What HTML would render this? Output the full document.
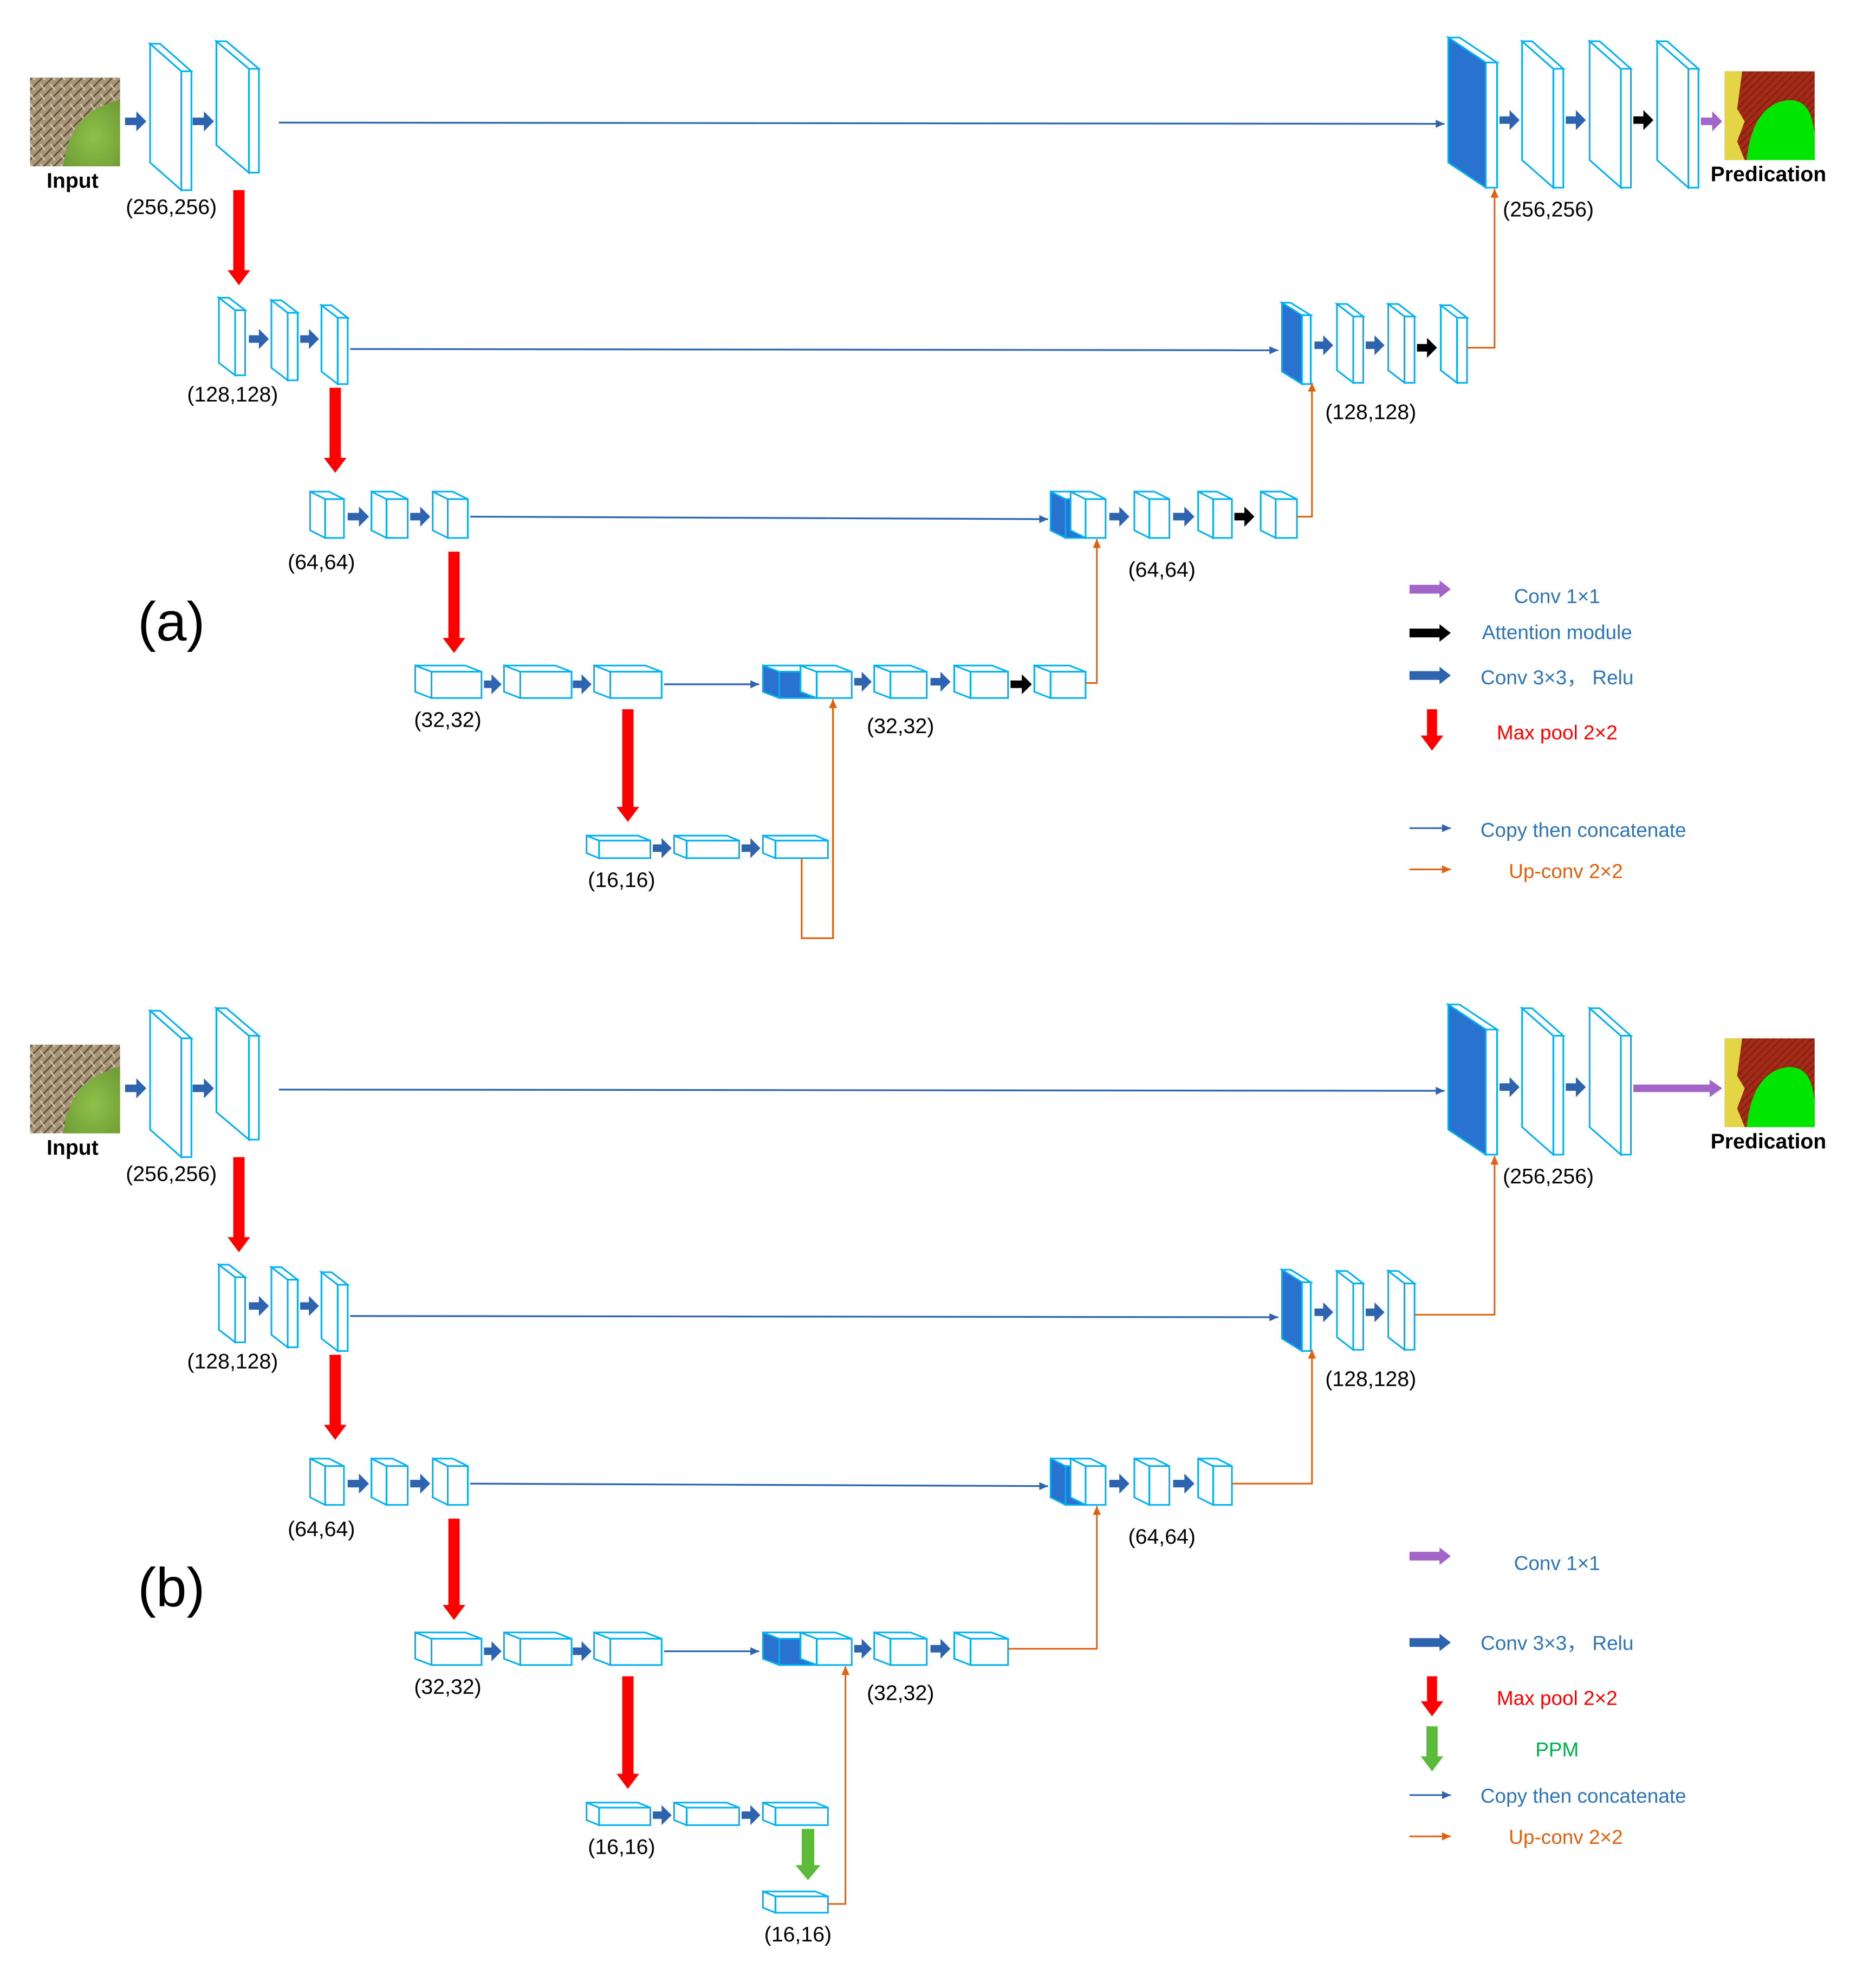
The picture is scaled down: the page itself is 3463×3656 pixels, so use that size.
<!DOCTYPE html>
<html><head><meta charset="utf-8">
<style>html,body{margin:0;padding:0;background:#fff}svg{display:block}</style>
</head><body>
<svg id="s" width="3463" height="3656" viewBox="0 0 1500 1583.6" preserveAspectRatio="none" xmlns="http://www.w3.org/2000/svg" font-family="Liberation Sans, sans-serif">
<defs>
<radialGradient id="leaf" cx="0.5" cy="0.5" r="0.6"><stop offset="0" stop-color="#8fc04a"/><stop offset="1" stop-color="#6e9c35"/></radialGradient>
<pattern id="straw" width="8" height="8" patternUnits="userSpaceOnUse"><rect width="8" height="8" fill="#a99677"/><path d="M0 8L8 0M-2 2L2 -2M6 10L10 6" stroke="#5d5142" stroke-width="1.2"/><path d="M0 3L4 8" stroke="#d9cdb3" stroke-width="1"/></pattern>
<pattern id="red" width="6" height="6" patternUnits="userSpaceOnUse"><rect width="6" height="6" fill="#a42a18"/><path d="M0 6L6 0" stroke="#7c1e10" stroke-width="1"/></pattern>
<clipPath id="c1"><rect x="24" y="62" width="72" height="71"/></clipPath>
<clipPath id="c2"><rect x="1379" y="57" width="72" height="71"/></clipPath>
</defs>
<g id="g"></g>
<g font-size="17" fill="#000" text-anchor="middle">
<text x="58" y="150" font-weight="bold">Input</text>
<text x="1414" y="145" font-weight="bold">Predication</text>
<text x="137" y="171">(256,256)</text>
<text x="1238" y="173">(256,256)</text>
<text x="186" y="321">(128,128)</text>
<text x="1096" y="335">(128,128)</text>
<text x="257" y="455">(64,64)</text>
<text x="929" y="461">(64,64)</text>
<text x="358" y="581">(32,32)</text>
<text x="720" y="586">(32,32)</text>
<text x="497" y="709">(16,16)</text>
<text x="137" y="512" font-size="44">(a)</text>
<text x="58" y="923" font-weight="bold">Input</text>
<text x="1414" y="918" font-weight="bold">Predication</text>
<text x="137" y="944">(256,256)</text>
<text x="1238" y="946">(256,256)</text>
<text x="186" y="1094">(128,128)</text>
<text x="1096" y="1108">(128,128)</text>
<text x="257" y="1228">(64,64)</text>
<text x="929" y="1234">(64,64)</text>
<text x="358" y="1354">(32,32)</text>
<text x="720" y="1359">(32,32)</text>
<text x="497" y="1482">(16,16)</text>
<text x="638" y="1552">(16,16)</text>
<text x="137" y="1284" font-size="44">(b)</text>
</g>
<g font-size="16" text-anchor="middle">
<text x="1245" y="482" fill="#2e75b6">Conv 1×1</text>
<text x="1245" y="511" fill="#2e75b6">Attention module</text>
<text x="1245" y="547" fill="#2e75b6">Conv 3×3， Relu</text>
<text x="1245" y="591" fill="#ff0000">Max pool 2×2</text>
<text x="1266" y="669" fill="#2e75b6">Copy then concatenate</text>
<text x="1252" y="702" fill="#e0600e">Up-conv 2×2</text>
<text x="1245" y="1255" fill="#2e75b6">Conv 1×1</text>
<text x="1245" y="1319" fill="#2e75b6">Conv 3×3， Relu</text>
<text x="1245" y="1363" fill="#ff0000">Max pool 2×2</text>
<text x="1245" y="1404" fill="#00b050">PPM</text>
<text x="1266" y="1441" fill="#2e75b6">Copy then concatenate</text>
<text x="1252" y="1474" fill="#e0600e">Up-conv 2×2</text>
</g>
</svg>
<script>
var o='';
var CY='#00b0f0',BL='#2e63b0',OR='#e0600e',FILL='#2a72d0';
function cub(x1,y1,x2,y2,dx,dy,f,frontFill){
 var fx1=x1+dx,fy1=y1+dy;
 var fill=f?FILL:'#fff';
 var ff=frontFill||(f&&dx<x2-x1-dx?FILL:'#fff');
 o+='<polygon points="'+[x1,y1,fx1,fy1,fx1,y2,x1,y2-dy].join(',')+'" fill="'+fill+'" stroke="'+CY+'" stroke-width="1.3"/>';
 o+='<polygon points="'+[x1,y1,x2-dx,y1,x2,fy1,fx1,fy1].join(',')+'" fill="#fff" stroke="'+CY+'" stroke-width="1.3"/>';
 o+='<rect x="'+fx1+'" y="'+fy1+'" width="'+(x2-fx1)+'" height="'+(y2-fy1)+'" fill="'+ff+'" stroke="'+CY+'" stroke-width="1.3"/>';
}
function ba(x1,x2,y,c,sh,hh,hl){sh=sh||6;hh=hh||16;hl=hl||8;var xs=x2-hl;
 o+='<polygon points="'+[x1,y-sh/2,xs,y-sh/2,xs,y-hh/2,x2,y,xs,y+hh/2,xs,y+sh/2,x1,y+sh/2].join(',')+'" fill="'+c+'"/>';}
function da(x,y1,y2,c,sw,hw,hl){sw=sw||9;hw=hw||18;hl=hl||12;var ys=y2-hl;
 o+='<polygon points="'+[x-sw/2,y1,x+sw/2,y1,x+sw/2,ys,x+hw/2,ys,x,y2,x-hw/2,ys,x-sw/2,ys].join(',')+'" fill="'+c+'"/>';}
function ln(pts,c,w,arrow){o+='<polyline points="'+pts.join(',')+'" fill="none" stroke="'+c+'" stroke-width="'+(w||1.3)+'"/>';
 if(arrow){var n=pts.length,x2=pts[n-2],y2=pts[n-1],x1=pts[n-4],y1=pts[n-3];var a=Math.atan2(y2-y1,x2-x1),L=7,W=3.2;
 var bx=x2-L*Math.cos(a),by=y2-L*Math.sin(a);
 o+='<polygon points="'+[x2,y2,bx-W*Math.sin(a),by+W*Math.cos(a),bx+W*Math.sin(a),by-W*Math.cos(a)].join(',')+'" fill="'+c+'"/>';}}
function images(dy){
 o+='<g transform="translate(0,'+dy+')"><g clip-path="url(#c1)"><rect x="24" y="62" width="72" height="71" fill="url(#straw)"/><path d="M50 140 C52 110 62 88 96 80 L100 140Z" fill="url(#leaf)"/></g></g>';
 o+='<g transform="translate(0,'+dy+')"><g clip-path="url(#c2)"><rect x="1379" y="57" width="72" height="71" fill="url(#red)"/><path d="M1379 57h14l-4 30 6 10-6 16 6 15h-16z" fill="#e3d545"/><path d="M1396 135 C1398 100 1410 82 1430 80 C1448 80 1452 95 1452 135Z" fill="#00e600"/></g></g>';
}
function panel(Y,b){
 images(Y);
 ba(100,117,97+Y,BL);ba(154,171,97+Y,BL);
 cub(120,35+Y,153,152+Y,25,22);cub(173,33+Y,207,138+Y,26,22);
 ln([223,98+Y,1155,99+Y],BL,1.4,true);
 da(191,152+Y,228+Y,'#ff0000');
 cub(1158,30+Y,1197,150+Y,30,20,true,'#fff');
 ba(1199,1215,96+Y,BL);cub(1217,33+Y,1250,150+Y,25,22);
 ba(1252,1268,96+Y,BL);cub(1271,33+Y,1304,150+Y,25,22);
 if(!b){ba(1306,1322,96+Y,'#000');cub(1325,33+Y,1358,150+Y,25,22);ba(1360,1377,97+Y,'#a366c8');}
 else{ba(1306,1377,97+Y,'#a366c8',6,14,10);}
 cub(175,238+Y,196,300+Y,13,10);cub(217,240+Y,238,304+Y,13,10);cub(257,244+Y,278,307+Y,13,10);
 ba(199,215,271+Y,BL);ba(240,255,271+Y,BL);
 ln([280,279+Y,1022,280+Y],BL,1.4,true);
 da(268,310+Y,378+Y,'#ff0000');
 cub(1025,242+Y,1048,307+Y,16,10,true,'#fff');
 ba(1051,1066,276+Y,BL);cub(1069,243+Y,1090,306+Y,13,10);
 ba(1092,1107,276+Y,BL);cub(1110,243+Y,1131,306+Y,13,10);
 if(!b){ba(1133,1149,278+Y,'#000');cub(1152,244+Y,1173,306+Y,13,10);ln([1173,278+Y,1195,278+Y,1195,151+Y],OR,1.3,true);}
 else{ln([1131,278+Y,1195,278+Y,1195,151+Y],OR,1.3,true);}
 cub(248,393+Y,275,430+Y,12,6);cub(297,393+Y,326,430+Y,12,6);cub(346,393+Y,374,430+Y,12,6);
 ba(278,295,413+Y,BL);ba(328,344,413+Y,BL);
 ln([376,413+Y,838,415+Y],BL,1.4,true);
 da(363,441+Y,522+Y,'#ff0000');
 cub(840,393+Y,868,430+Y,12,6,true,FILL);cub(856,393+Y,884,430+Y,12,6);
 ba(887,903,413+Y,BL);cub(907,393+Y,935,430+Y,12,6);
 ba(938,955,413+Y,BL);cub(958,393+Y,985,430+Y,12,6);
 if(!b){ba(987,1003,413+Y,'#000');cub(1008,393+Y,1037,430+Y,12,6);ln([1037,413+Y,1049,413+Y,1049,306+Y],OR,1.3,true);}
 else{ln([985,413+Y,1049,413+Y,1049,306+Y],OR,1.3,true);}
 cub(332,532+Y,385,558+Y,13,5);cub(403,532+Y,457,558+Y,13,5);cub(475,532+Y,529,558+Y,13,5);
 ba(387,401,547+Y,BL);ba(458,473,547+Y,BL);
 ln([531,547+Y,607,547+Y],BL,1.4,true);
 da(502,567+Y,657+Y,'#ff0000');
 cub(610,532+Y,655,558+Y,13,5,true,FILL);cub(640,532+Y,681,558+Y,13,5);
 ba(683,697,545+Y,BL);cub(699,532+Y,741,558+Y,13,5);
 ba(744,760,545+Y,BL);cub(763,532+Y,806,558+Y,13,5);
 if(!b){ba(808,825,547+Y,'#000');cub(827,532+Y,868,558+Y,13,5);ln([868,546+Y,877,546+Y,877,431+Y],OR,1.3,true);}
 else{ln([806,545+Y,877,545+Y,877,431+Y],OR,1.3,true);}
 cub(469,668+Y,520,686+Y,10,4);cub(539,668+Y,591,686+Y,10,4);cub(610,668+Y,662,686+Y,10,4);
 ba(522,537,678+Y,BL);ba(593,608,678+Y,BL);
 if(!b){ln([641,686+Y,641,750+Y,666,750+Y,666,559+Y],OR,1.3,true);}
 else{da(646,689+Y,730+Y,'#5dbb3c',10,20,12);cub(610,739+Y,662,756+Y,10,4);ln([662,749+Y,676,749+Y,676,559+Y],OR,1.3,true);}
}
panel(0,false);panel(773,true);
ba(1127,1160,471,'#a366c8',7,14,9);ba(1127,1160,506,'#000',7,14,9);ba(1127,1160,540,BL,7,14,9);
da(1145,567,600,'#ff0000',8,18,12);
ln([1127,662,1160,662],BL,1.3,true);ln([1127,695,1160,695],OR,1.3,true);
ba(1127,1160,1244,'#a366c8',7,14,9);ba(1127,1160,1313,BL,7,14,9);
da(1145,1340,1372,'#ff0000',8,18,12);da(1145,1380,1416,'#5dbb3c',9,18,12);
ln([1127,1435,1160,1435],BL,1.3,true);ln([1127,1468,1160,1468],OR,1.3,true);
document.getElementById('g').innerHTML=o;
</script>
</body></html>
